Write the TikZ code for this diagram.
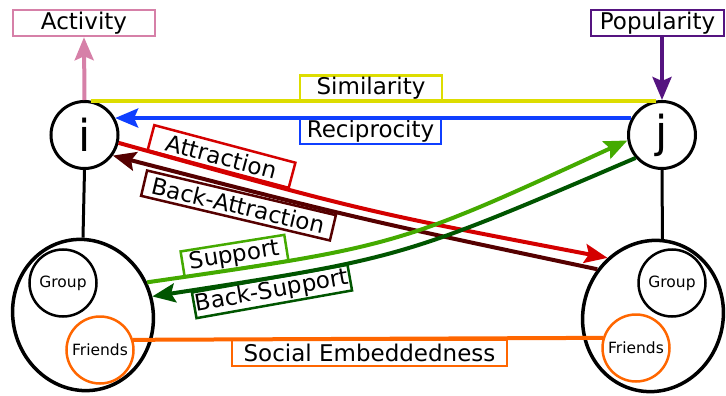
\documentclass[tikz,border=0pt]{standalone}
\usepackage{fontspec}
\setmainfont{DejaVu Sans}
\usetikzlibrary{arrows.meta,shapes.geometric}
\definecolor{cpink}{HTML}{D680A8}
\definecolor{cpurple}{HTML}{551480}
\definecolor{cyellow}{HTML}{DDDD00}
\definecolor{cblue}{HTML}{0F3FFF}
\definecolor{cred}{HTML}{D40000}
\definecolor{cdred}{HTML}{550000}
\definecolor{cgreen}{HTML}{44AA00}
\definecolor{cdgreen}{HTML}{005500}
\definecolor{corange}{HTML}{FF6600}
\begin{document}
\begin{tikzpicture}[x=1pt,y=-1pt,
  lbl/.style={draw, line width=2.5pt, font=\fontsize{23}{27}\selectfont, minimum height=26pt, inner sep=0pt, text=black},
  agent/.style={circle, draw, line width=3pt, minimum size=67pt, inner sep=0pt, font=\fontsize{44}{50}\selectfont},
  sub/.style={circle, draw, line width=2.5pt, minimum size=67pt, inner sep=0pt, font=\fontsize{15.5}{18}\selectfont, text=black},
  env/.style={ellipse, draw, line width=3.5pt, minimum width=140pt, minimum height=152pt, inner sep=0pt},
  conn/.style={line width=4pt},
  tip/.style={-{Stealth[length=23pt,width=19pt,inset=4pt]}},
]
\useasboundingbox (0,0) rectangle (726,396);

% agents
\node[agent] (i) at (84.5,135) {i};
\node[agent] (j) at (662,135) {j};

% environments
\node[env, rotate=15] (L) at (83,315) {};
\node[env, rotate=-15] (R) at (653,316) {};
\node[sub] (LG) at (63,283) {Group};
\node[sub, draw=corange] (LF) at (100,350) {Friends};
\node[sub] (RG) at (672,283) {Group};
\node[sub, draw=corange] (RF) at (636,348) {Friends};

% labels
\node[lbl, draw=cpink, minimum width=142pt] (act) at (84,23) {Activity};
\node[lbl, draw=cpurple, minimum width=133pt] (pop) at (657.5,23) {Popularity};
\node[lbl, draw=cyellow, minimum width=142pt] (sim) at (371,88.5) {Similarity};
\node[lbl, draw=cblue, minimum width=141pt] (rec) at (370.5,131) {Reciprocity};
\node[lbl, draw=cred, minimum width=146pt, rotate=-14.9] (att) at (221.5,156.5) {Attraction};
\node[lbl, draw=cdred, minimum width=194pt, rotate=-13.3] (batt) at (238.5,205.5) {Back-Attraction};
\node[lbl, draw=cgreen, minimum width=105pt, rotate=9.1] (sup) at (234.5,256) {Support};
\node[lbl, draw=cdgreen, minimum width=158pt, rotate=10.1] (bsup) at (272,291.5) {Back-Support};
\node[lbl, draw=corange, minimum width=275pt] (soc) at (369.5,353) {Social Embeddedness};

% structural links
\draw[line width=3pt] (i.south) -- (L.75);
\draw[line width=3pt] (j.south) -- (R.98);

% connectors
\draw[conn, cpink, tip] (i.north) -- (act.south);
\draw[conn, cpurple, tip] (j.north |- pop.south) -- (j.north);
\draw[conn, cyellow] (i.80) -- (j.100);
\draw[conn, cblue, tip] (j.151) -- (i.29);
\draw[conn, cred, tip] (i.-13) .. controls (362.5,211) .. (R.143);
\draw[conn, cdred, tip] (R.155) .. controls (355,218) .. (i.-36);
\draw[conn, cgreen, tip] (L.12) .. controls (398,246) .. (j.189);
\draw[conn, cdgreen, tip] (j.221) .. controls (402,258) .. (L.0);
\draw[conn, corange] (LF.17) -- (RF.163);
\end{tikzpicture}
\end{document}
